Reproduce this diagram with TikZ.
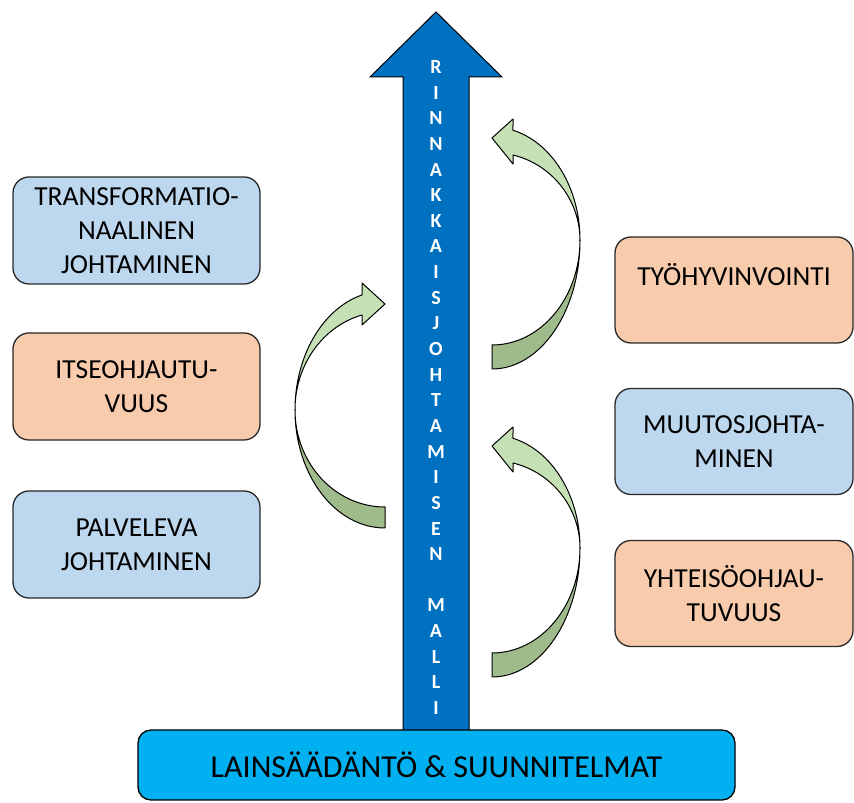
\documentclass[tikz,border=0pt]{standalone}
\usepackage{fontspec}
\setmainfont{Carlito}
\definecolor{mainblue}{RGB}{0,112,192}
\definecolor{basecyan}{RGB}{0,176,240}
\definecolor{paleblue}{RGB}{189,215,238}
\definecolor{paleorange}{RGB}{248,203,173}
\definecolor{greenlight}{RGB}{197,224,180}
\definecolor{greendark}{RGB}{160,187,139}
\definecolor{boxline}{RGB}{40,40,40}
\tikzset{
  boxtext/.style={align=center, inner sep=0pt, text=black, font=\fontsize{27.5}{34}\selectfont},
  box/.style={boxtext, draw=boxline, line width=1.3pt, rounded corners=16pt},
  leftbox/.style={box, minimum width=247pt, minimum height=107pt},
  rightbox/.style={box, minimum width=238pt, minimum height=106pt},
  bluebox/.style={fill=paleblue},
  orangebox/.style={fill=paleorange},
  letter/.style={text=white, inner sep=0pt, font=\bfseries\fontsize{20}{20}\selectfont},
  ribbonfront/.style={fill=greenlight, draw=black, line width=1pt, line join=round},
  ribbonback/.style={fill=greendark, draw=black, line width=1pt, line join=round},
  % curved arrow bulging to the left, origin at the pinch level on the tail axis
  leftturn/.pic={
    \path[ribbonback] (0,-118)
      arc[start angle=270, end angle=180, x radius=90pt, y radius=118pt]
      arc[start angle=180, end angle=270, x radius=90pt, y radius=97pt] -- cycle;
    \path[ribbonfront] (-90,0)
      arc[start angle=180, end angle=104.8, x radius=90pt, y radius=119pt]
      -- (-23,127) -- (0,106) -- (-23,85) -- (-23,95)
      arc[start angle=104.8, end angle=180, x radius=90pt, y radius=98pt] -- cycle;
  },
  % curved arrow bulging to the right
  rightturn/.pic={
    \path[ribbonback] (0,-129)
      arc[start angle=270, end angle=360, x radius=88pt, y radius=129pt]
      arc[start angle=0, end angle=-90, x radius=88pt, y radius=105pt] -- cycle;
    \path[ribbonfront] (88,0)
      arc[start angle=0, end angle=76.2, x radius=88pt, y radius=113pt]
      -- (21,121) -- (0,102) -- (21,76) -- (21,85)
      arc[start angle=76.2, end angle=0, x radius=88pt, y radius=88pt] -- cycle;
  }
}
\begin{document}
\begin{tikzpicture}[x=1pt,y=1pt]
\useasboundingbox[fill=white] (0,0) rectangle (854,803);

% main upward arrow
\draw[fill=mainblue, draw=black, line width=1pt, line join=miter]
  (403,70) -- (403,726) -- (370,726) -- (436,791) -- (502,726) -- (469,726) -- (469,70) -- cycle;

% vertical title inside the arrow
\foreach \ch [count=\i from 0] in {R,I,N,N,A,K,K,A,I,S,J,O,H,T,A,M,I,S,E,N,{},M,A,L,L,I}
  \node[letter] (letter\i) at (436,{736-25.64*\i}) {\ch};

% base box
\node[draw=black, line width=1.3pt, fill=basecyan, rounded corners=13pt,
      minimum width=597pt, minimum height=70pt, inner sep=0pt,
      font=\fontsize{32}{38}\selectfont] (base) at (436.5,38) {LAINSÄÄDÄNTÖ \& SUUNNITELMAT};

% left column
\node[leftbox, bluebox]   (transf) at (136.5,572.5) {TRANSFORMATIO-\\NAALINEN\\JOHTAMINEN};
\node[leftbox, orangebox] (itse)   at (136.5,416.5) {ITSEOHJAUTU-\\VUUS};
\node[leftbox, bluebox]   (palv)   at (136.5,258.5) {PALVELEVA\\JOHTAMINEN};

% right column
\node[rightbox, orangebox] (tyo)    at (734,513)   {};
\node[boxtext] (tyotext) at ([yshift=15pt]tyo.center) {TYÖHYVINVOINTI};
\node[rightbox, bluebox]   (muutos) at (734,361.5) {MUUTOSJOHTA-\\MINEN};
\node[rightbox, orangebox] (yht)    at (734,209.5) {YHTEISÖOHJAU-\\TUVUUS};

% curved green arrows
\pic at (385,393) {leftturn};
\pic at (492,563) {rightturn};
\pic at (492,255) {rightturn};
\end{tikzpicture}
\end{document}
